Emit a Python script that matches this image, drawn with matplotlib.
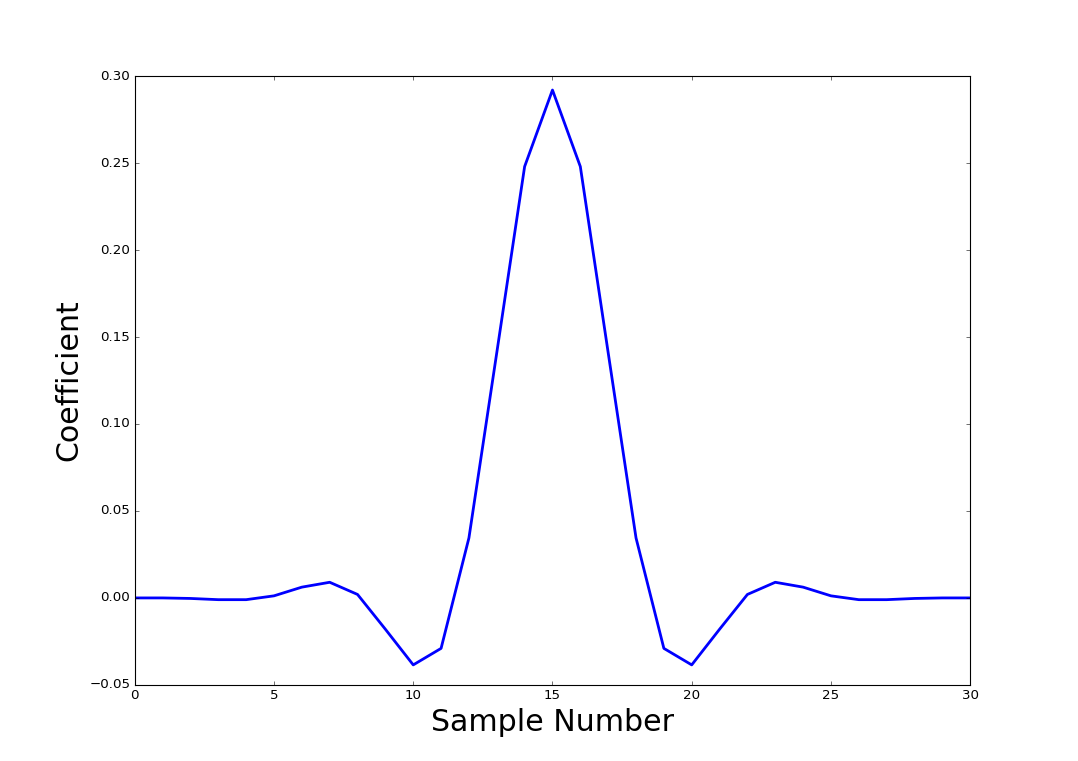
import matplotlib
matplotlib.use("Agg")
import matplotlib.pyplot as plt
import numpy as np

plt.style.use('classic')

sample = list(range(31))
coef = [0.0, 0.0, -0.0003, -0.001, -0.001, 0.0012, 0.0062, 0.009, 0.002, -0.018,
        -0.0385, -0.029, 0.0345, 0.141, 0.248, 0.292, 0.248, 0.141, 0.0345, -0.029,
        -0.0385, -0.018, 0.002, 0.009, 0.0062, 0.0012, -0.001, -0.001, -0.0003, 0.0, 0.0]

fig = plt.figure(figsize=(1078/80, 761/80), dpi=80, facecolor='white')
ax = fig.add_subplot(111)
ax.plot(sample, coef, color='b', linewidth=2.5)
ax.set_xlim(0, 30)
ax.set_ylim(-0.05, 0.30)
ax.set_xlabel('Sample Number', fontsize=27)
ax.set_ylabel('Coefficient', fontsize=27)
fig.savefig('out.png', dpi=80, facecolor='white')
